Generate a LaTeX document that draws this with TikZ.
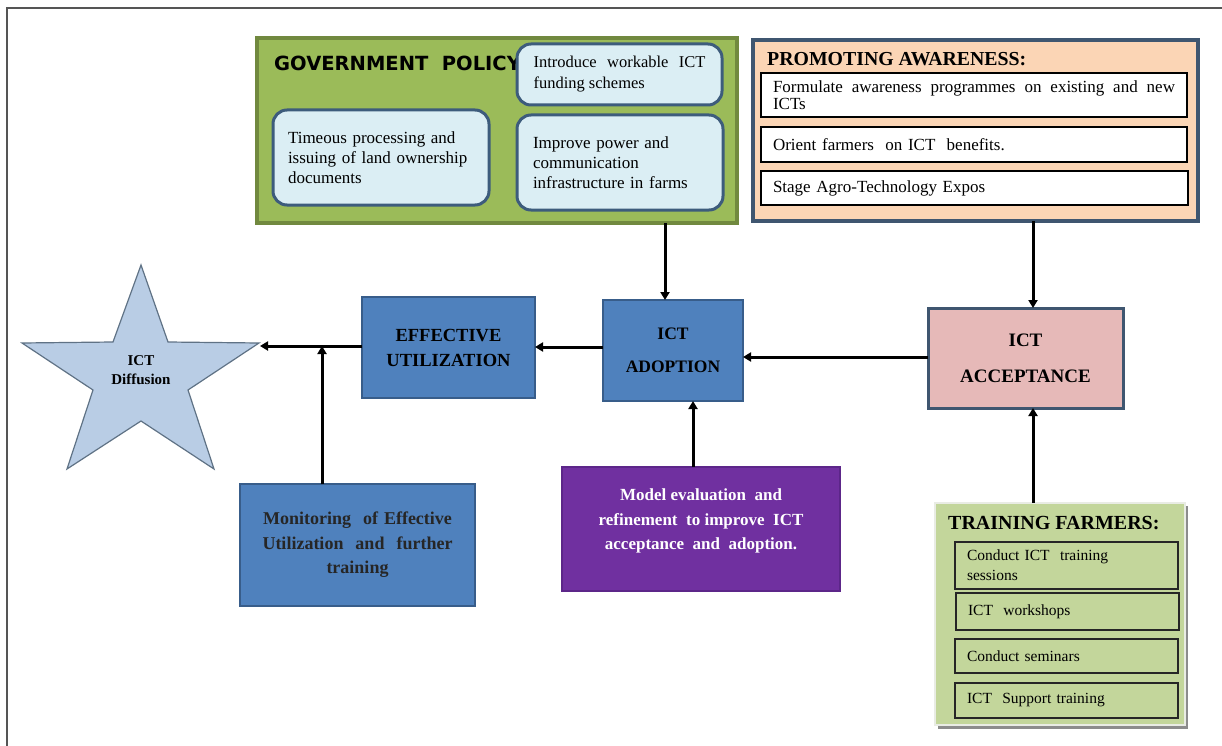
\documentclass[tikz,border=0pt]{standalone}
\usepackage{fontspec}
\setmainfont{Liberation Serif}
\newfontfamily\dejab{DejaVu Sans}
\usetikzlibrary{arrows.meta}
\definecolor{govfill}{HTML}{9BBB59}
\definecolor{govline}{HTML}{71893F}
\definecolor{pbfill}{HTML}{DBEEF4}
\definecolor{pbline}{HTML}{3D5C7C}
\definecolor{pafill}{HTML}{FBD5B5}
\definecolor{paline}{HTML}{3F5670}
\definecolor{bluefill}{HTML}{4F81BD}
\definecolor{blueline}{HTML}{385D8A}
\definecolor{pinkfill}{HTML}{E6B9B8}
\definecolor{purplefill}{HTML}{7030A0}
\definecolor{purpleline}{HTML}{5C2689}
\definecolor{starfill}{HTML}{B9CDE5}
\definecolor{starline}{HTML}{5F7285}
\definecolor{tffill}{HTML}{C3D69B}
\definecolor{tfline}{HTML}{E9ECE4}
\definecolor{framegray}{HTML}{555555}
\newcommand\myfs[2]{\fontsize{#1}{#2}\selectfont}
\begin{document}
\begin{tikzpicture}[x=1pt,y=-1pt,
  box/.style={anchor=north west, inner sep=0pt, outer sep=0pt},
  pillbox/.style={box, rounded corners=14pt, fill=pbfill, draw=pbline, line width=3pt},
  subbox/.style={box, fill=white, draw=black, line width=1.3pt},
  tfbox/.style={box, fill=tffill, draw=black!85, line width=1.4pt},
  bluebox/.style={box, fill=bluefill, draw=blueline, line width=2.5pt},
  bodytext/.style={font=\myfs{17}{20}},
  arr/.style={line width=3pt, -{Triangle[length=8pt,width=9pt]}},
]
\useasboundingbox (0,0) rectangle (1222,746);
% outer frame
\draw[framegray, line width=2pt] (7,746) -- (7,8) -- (1222,8);

% ---------------- GOVERNMENT POLICY ----------------
\node[box, fill=govfill, draw=govline, line width=4pt, minimum width=480pt, minimum height=185pt] (gov) at (257,38) {};
\node[anchor=base west, inner sep=0pt, font=\dejab\bfseries\myfs{19.5}{22}] (govt) at (274,71) {GOVERNMENT\ \ POLICY};
\node[pillbox, minimum width=205pt, minimum height=61pt, text width=172pt, align=justify, font=\myfs{16.5}{21}] (gp1) at (517,44)
  {Introduce workable ICT funding schemes};
\node[pillbox, minimum width=216pt, minimum height=95pt, text width=186pt, align=left, bodytext] (gp2) at (273,110)
  {Timeous processing and\\issuing of land ownership\\documents};
\node[pillbox, minimum width=206pt, minimum height=95pt, text width=174pt, align=left, bodytext] (gp3) at (517,115)
  {Improve power and\\communication\\infrastructure in farms};

% ---------------- PROMOTING AWARENESS ----------------
\node[box, fill=pafill, draw=paline, line width=3.5pt, minimum width=445pt, minimum height=181pt] (pa) at (753,40) {};
\node[anchor=base west, inner sep=0pt, font=\bfseries\myfs{19.8}{22}] (pat) at (767,66) {PROMOTING AWARENESS:};
\node[subbox, minimum width=426pt, minimum height=44pt, text width=402pt, align=justify, font=\myfs{17}{17.5}] (pa1) at (761,73)
  {Formulate awareness programmes on existing and new\linebreak ICTs};
\node[subbox, minimum width=426pt, minimum height=35pt, text width=402pt, align=left, bodytext] (pa2) at (761,127)
  {Orient farmers\ \ on ICT\ \ benefits.};
\node[subbox, minimum width=427pt, minimum height=34pt, text width=403pt, align=left, bodytext] (pa3) at (761,171)
  {Stage Agro-Technology Expos};

% ---------------- main chain ----------------
\node[bluebox, minimum width=173pt, minimum height=101pt, align=center, font=\bfseries\myfs{18.5}{25}] (eu) at (362,297)
  {EFFECTIVE\\UTILIZATION};
\node[bluebox, minimum width=140pt, minimum height=101pt, align=center, font=\bfseries\myfs{17.5}{33}] (adopt) at (603,300)
  {ICT\\ADOPTION};
\node[box, fill=pinkfill, draw=paline, line width=3pt, minimum width=195pt, minimum height=100pt, align=center, font=\bfseries\myfs{19}{36}] (accept) at (928,308)
  {ICT\\ACCEPTANCE};
\node[bluebox, minimum width=235pt, minimum height=122pt, text width=215pt, align=center, font=\bfseries\myfs{18}{24.5}, text=black!85] (monitor) at (240,484)
  {Monitoring\ \ of Effective\\Utilization\ \ and\ \ further\\training};
\node[box, fill=purplefill, draw=purpleline, line width=1.5pt, minimum width=278pt, minimum height=124pt] (model) at (562,467) {};
\node[align=center, inner sep=0pt, text=white, font=\bfseries\myfs{17}{24.5}] (modelt) at (701,521)
  {Model evaluation\ \ and\\refinement\ \ to improve\ \ ICT\\acceptance\ \ and\ \ adoption.};

% ---------------- star ----------------
\draw[fill=starfill, draw=starline, line width=1.2pt]
  (141,265) -- (168,342) -- (259,343) -- (188,390) -- (214,469) -- (141,421)
  -- (67,469) -- (93,390) -- (22,343) -- (113,342) -- cycle;
\node[align=center, inner sep=0pt, font=\bfseries\myfs{15}{19}] (star) at (141,370) {ICT\\Diffusion};
\coordinate (starR) at (260,346);

% ---------------- TRAINING FARMERS ----------------
\fill[black!45] (938,506) rectangle (1188,729);
\node[box, fill=tffill, draw=tfline, line width=2.5pt, minimum width=250pt, minimum height=222pt] (tf) at (935,503) {};
\node[anchor=base west, inner sep=0pt, font=\bfseries\myfs{20}{22}] (tft) at (948,529) {TRAINING FARMERS:};
\node[tfbox, minimum width=223pt, minimum height=47pt, text width=199pt, align=left, font=\myfs{15.5}{20}] (tf1) at (955,542)
  {Conduct ICT\ \ training\\sessions};
\node[tfbox, minimum width=223pt, minimum height=37pt, text width=199pt, align=left, font=\myfs{15.5}{20}] (tf2) at (956,593)
  {ICT\ \ workshops};
\node[tfbox, minimum width=223pt, minimum height=34pt, text width=199pt, align=left, font=\myfs{15.5}{20}] (tf3) at (955,639)
  {Conduct seminars};
\node[tfbox, minimum width=223pt, minimum height=35pt, text width=199pt, align=left, font=\myfs{15.5}{20}] (tf4) at (955,683)
  {ICT\ \ Support training};

% ---------------- connectors ----------------
\coordinate (xg) at (665,0);
\coordinate (xa) at (1033,0);
\coordinate (xm) at (693,0);
\coordinate (yac) at (0,357);
\coordinate (yad) at (0,347);
\coordinate (j) at (322,346);
\draw[arr] (gov.south -| xg) -- (adopt.north -| xg);
\draw[arr] (pa.south -| xa) -- (accept.north -| xa);
\draw[arr] (tf.north -| xa) -- (accept.south -| xa);
\draw[arr] (accept.west |- yac) -- (adopt.east |- yac);
\draw[arr] (adopt.west |- yad) -- (eu.east |- yad);
\draw[arr] (eu.west |- j) -- (starR);
\draw[arr] (monitor.north -| j) -- (j);
\draw[arr] (model.north -| xm) -- (adopt.south -| xm);
\end{tikzpicture}
\end{document}
